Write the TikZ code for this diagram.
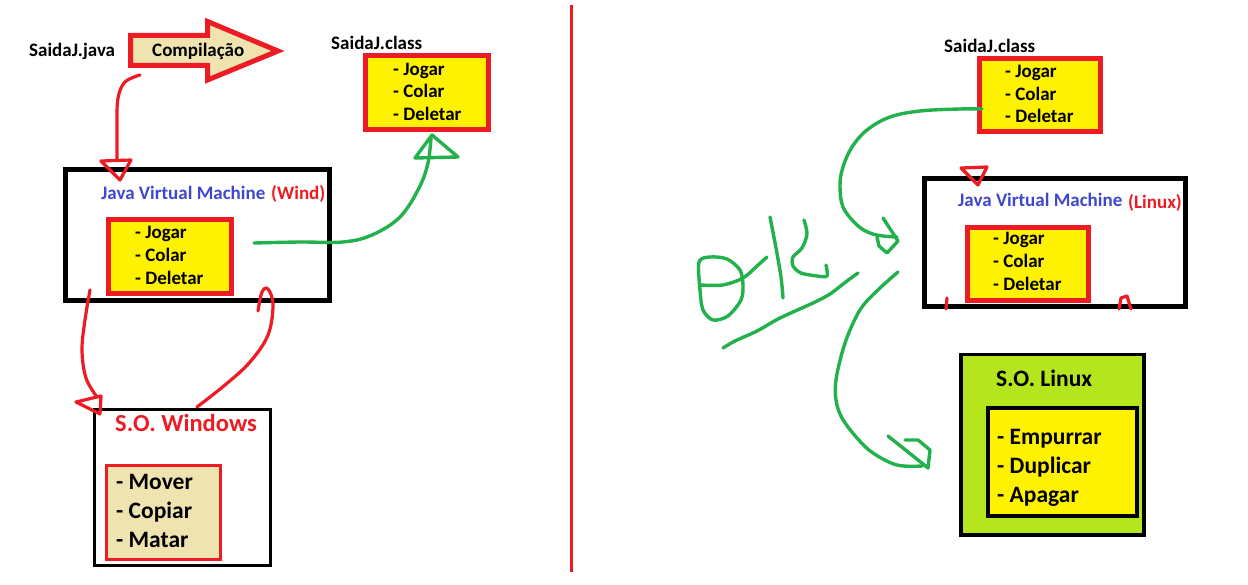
\documentclass[tikz,border=0pt]{standalone}
\usepackage{fontspec}
\setmainfont{Carlito}
\definecolor{pred}{HTML}{ED1C24}
\definecolor{pyellow}{HTML}{FFF200}
\definecolor{pwheat}{HTML}{EFE4B0}
\definecolor{pgreen}{HTML}{22B14C}
\definecolor{pblue}{HTML}{3F48CC}
\definecolor{plime}{HTML}{B5E61D}
\begin{document}
\begin{tikzpicture}[x=1pt,y=-1pt,
  box/.style={draw, inner sep=0pt, anchor=north west, line join=miter},
  stxt/.style={anchor=base west, inner sep=0pt, font=\fontsize{19}{20}\selectfont\bfseries},
  btxt/.style={anchor=base west, inner sep=0pt, font=\fontsize{23.5}{24}\selectfont\bfseries},
  redpen/.style={draw=pred, line width=3.2pt, line cap=round, line join=round},
  greenpen/.style={draw=pgreen, line width=3.4pt, line cap=round, line join=round}]
\useasboundingbox (0,0) rectangle (1248,585);
\fill[white] (0,0) rectangle (1248,585);

% ---------- left half ----------
\node[stxt] (java) at (29,57) {SaidaJ.java};
\draw[draw=pred, fill=pwheat, line width=5pt, line join=miter]
  (130.5,35.5) -- (207.5,35.5) -- (207.5,21.5) -- (278,51) -- (207.5,80) -- (207.5,65.5) -- (130.5,65.5) -- cycle;
\node[stxt] (comp) at (152,57) {Compilação};
\node[stxt] (classL) at (331,50) {SaidaJ.class};
\node[box, fill=pyellow, draw=pred, line width=5pt, minimum width=123pt, minimum height=74pt] (boxL) at (363,53) {};
\node[stxt] at (393,76) {- Jogar};
\node[stxt] at (393,98) {- Colar};
\node[stxt] at (393,121) {- Deletar};

\node[box, line width=5pt, minimum width=264pt, minimum height=131pt] (jvmL) at (63,167) {};
\node[stxt, text=pblue] (jvmLt) at (101,200) {Java Virtual Machine};
\node[stxt, text=pred] at (271,200) {(Wind)};
\node[box, fill=pyellow, draw=pred, line width=5pt, minimum width=123pt, minimum height=74pt] (inL) at (106,217) {};
\node[stxt] at (135,239) {- Jogar};
\node[stxt] at (135,262) {- Colar};
\node[stxt] at (135,285) {- Deletar};

\node[box, line width=3pt, minimum width=176pt, minimum height=156pt] (win) at (93,408) {};
\node[btxt, text=pred, font=\fontsize{24.5}{26}\selectfont\bfseries] (wint) at (115,431) {S.O. Windows};
\node[box, fill=pwheat, draw=pred, line width=3pt, minimum width=114pt, minimum height=94pt] (winin) at (105,464) {};
\node[btxt] at (116,489) {- Mover};
\node[btxt] at (116,518) {- Copiar};
\node[btxt] at (116,547) {- Matar};

% red arrow: compilation -> JVM
\draw[redpen] plot[smooth, tension=0.6] coordinates {(140,75) (125,82) (118,98) (117,125) (117,160)};
\draw[redpen] (101,161) -- (131,160) -- (120,180) -- cycle;

% green arrow: JVM -> SaidaJ.class
\draw[greenpen] plot[smooth, tension=0.6] coordinates {(254,243) (300,242) (343,242) (372,235) (400,217) (419,188) (428,163) (431,137)};
\draw[greenpen] (415,158) -- (432,135) -- (458,157) -- cycle;

% red arrow: JVM -> Windows
\draw[redpen] plot[smooth, tension=0.6] coordinates {(90,290) (85,320) (82,350) (86,378) (97,397)};
\draw[redpen] (76,402) -- (101,396) -- (100,414) -- cycle;

% red arrow: Windows -> JVM
\draw[redpen] plot[smooth, tension=0.6] coordinates {(197,407) (225,385) (250,362) (268,335) (273,305) (268,289) (262,292) (258,311)};

% separator
\draw[draw=pred, line width=3pt] (571,5) -- (571,572);

% ---------- right half ----------
\node[stxt] (classR) at (944,53) {SaidaJ.class};
\node[box, fill=pyellow, draw=pred, line width=5pt, minimum width=121pt, minimum height=73pt] (boxR) at (977,56) {};
\node[stxt] at (1005,78) {- Jogar};
\node[stxt] at (1005,101) {- Colar};
\node[stxt] at (1005,123) {- Deletar};

\node[box, line width=5pt, minimum width=261pt, minimum height=128pt] (jvmR) at (922,176) {};
\node[stxt, text=pblue] (jvmRt) at (958,207) {Java Virtual Machine};
\node[stxt, text=pred] at (1128,209) {(Linux)};
\node[box, fill=pyellow, draw=pred, line width=5pt, minimum width=121pt, minimum height=73pt] (inR) at (965,225) {};
\node[stxt] at (993,245) {- Jogar};
\node[stxt] at (993,268) {- Colar};
\node[stxt] at (993,291) {- Deletar};
\draw[redpen] (961,168) -- (987,167) -- (978,185) -- cycle;
\draw[redpen] (947,298) -- (946,309);
\draw[redpen] (1119,309) -- (1121,298) -- (1127,296) -- (1131,309);

\node[box, fill=plime, line width=3.5pt, minimum width=183pt, minimum height=180pt] (lin) at (959,353) {};
\node[btxt] (lint) at (996,386) {S.O. Linux};
\node[box, fill=pyellow, line width=3.5pt, minimum width=149pt, minimum height=108pt] (linin) at (986,406) {};
\node[btxt] at (997,444) {- Empurrar};
\node[btxt] at (997,473) {- Duplicar};
\node[btxt] at (997,502) {- Apagar};

% green: class -> JVM (Linux)
\draw[greenpen] plot[smooth, tension=0.6] coordinates {(982,109) (960,109) (920,111) (890,117) (867,130) (852,147) (843,167) (840,185) (843,207) (857,225) (870,233) (883,236) (897,237)};
\draw[greenpen] (883,218) -- (898,241) -- (887,253) -- (879,246) -- (877,237);

% green scribbles
\draw[greenpen] plot[smooth cycle, tension=0.5] coordinates {(699,262) (710,257) (727,259) (740,270) (743,285) (741,300) (728,316) (713,320) (703,310) (700,290)};
\draw[greenpen] plot[smooth, tension=0.5] coordinates {(700,285) (723,285) (743,278) (757,266) (767,257)};
\draw[greenpen] plot[smooth, tension=0.5] coordinates {(770,217) (776,248) (781,277) (783,298)};
\draw[greenpen] plot[smooth, tension=0.5] coordinates {(804,220) (807,234) (802,248) (793,257) (793,266) (801,273) (817,276) (827,276) (826,265)};
\draw[greenpen] plot[smooth, tension=0.5] coordinates {(723,348) (735,341) (757,331) (780,318) (813,303) (830,294) (847,281) (858,273)};

% green: JVM (Linux) -> S.O. Linux
\draw[greenpen] plot[smooth, tension=0.6] coordinates {(898,272) (880,288) (862,307) (850,330) (842,353) (836,380) (836,400) (842,418) (857,438) (873,453) (897,465) (922,466)};
\draw[greenpen] (888,436) -- (928,468) -- (930,450) -- (918,440) -- (905,440);
\end{tikzpicture}
\end{document}
